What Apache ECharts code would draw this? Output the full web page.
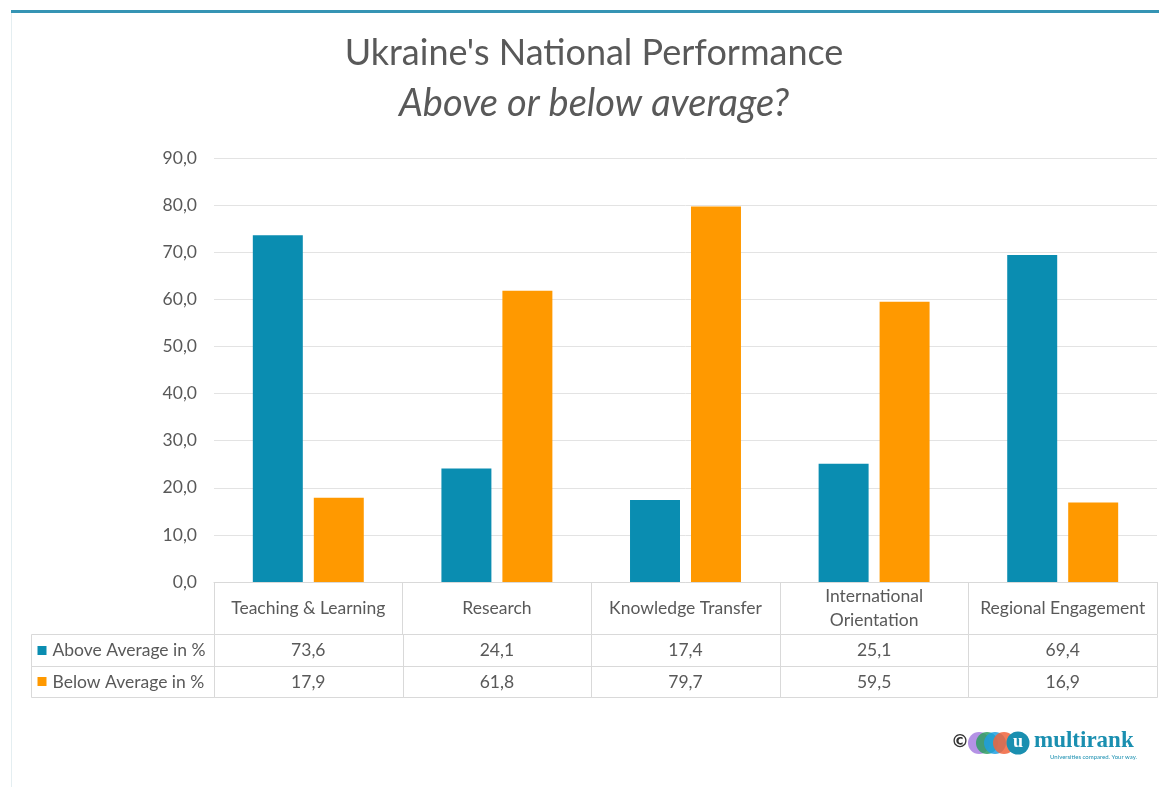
<!DOCTYPE html>
<html><head><meta charset="utf-8">
<script src="https://cdn.jsdelivr.net/npm/echarts@6/dist/echarts.min.js"></script>
<style>html,body{margin:0;padding:0;background:#fff}#c{width:1159px;height:787px}</style>
</head><body><div id="c"></div>
<script>
// ---- data ----
const categories = ['Teaching & Learning', 'Research', 'Knowledge Transfer', 'International\nOrientation', 'Regional Engagement'];
const seriesNames = ['Above Average in %', 'Below Average in %'];
const aboveValues = [73.6, 24.1, 17.4, 25.1, 69.4];
const belowValues = [17.9, 61.8, 79.7, 59.5, 16.9];
const yMin = 0, yMax = 90, yInterval = 10;
const titleText = "Ukraine's National Performance";
const subtitleText = 'Above or below average?';

// ---- style ----
const FONT = 'Lato';
const GREY = '#595959';
const BORDER = '#d9d9d9';
const colors = ['#0a8db1', '#ff9900'];
const fmt = v => v.toFixed(1).replace('.', ',');

const valueRows = [aboveValues, belowValues];
const tableData = [];
valueRows.forEach((arr, r) => arr.forEach((v, c) => tableData.push([c, r])));
const legendData = seriesNames.map((n, r) => [0, r]);

function cellRect(api) {
  const c = api.coord([api.value(0), api.value(1)]);
  const s = api.size([1, 1]);
  const l = Math.round(c[0] - s[0] / 2), rr = Math.round(c[0] + s[0] / 2);
  const t = Math.round(c[1] - s[1] / 2), b = Math.round(c[1] + s[1] / 2);
  return { c, x: l + 0.5, y: t + 0.5, w: rr - l, h: b - t };
}

function renderValueCell(params, api) {
  const r = cellRect(api);
  const col = api.value(0), row = api.value(1);
  return {
    type: 'group',
    children: [
      { type: 'rect', shape: { x: r.x, y: r.y, width: r.w, height: r.h }, style: { fill: 'none', stroke: BORDER, lineWidth: 1 } },
      { type: 'text', x: r.c[0], y: r.c[1] + 1, style: { text: fmt(valueRows[row][col]), fill: GREY, font: '17.5px ' + FONT, align: 'center', verticalAlign: 'middle' } }
    ]
  };
}

function renderLegendCell(params, api) {
  const r = cellRect(api);
  const row = api.value(1);
  return {
    type: 'group',
    children: [
      { type: 'rect', shape: { x: r.x, y: r.y, width: r.w, height: r.h }, style: { fill: 'none', stroke: BORDER, lineWidth: 1 } },
      { type: 'rect', shape: { x: r.x + 6, y: Math.round(r.c[1]) - 4, width: 9, height: 9 }, style: { fill: colors[row] } },
      { type: 'text', x: r.x + 21, y: r.c[1] + 1, style: { text: seriesNames[row], fill: GREY, font: '17.5px ' + FONT, align: 'left', verticalAlign: 'middle' } }
    ]
  };
}

const chart = echarts.init(document.getElementById('c'), null, { renderer: 'canvas' });
chart.setOption({
  backgroundColor: '#ffffff',
  animation: false,
  textStyle: { fontFamily: FONT },
  title: [
    { text: titleText, left: 589, top: 30, textAlign: 'center', textStyle: { fontFamily: FONT, fontSize: 36, fontWeight: 'normal', color: GREY } },
    { text: subtitleText, left: 589, top: 80, textAlign: 'center', textStyle: { fontFamily: FONT, fontSize: 38, fontWeight: 'normal', fontStyle: 'italic', color: GREY } }
  ],
  grid: [
    { left: 214, right: 2, top: 158, bottom: 205 },
    { left: 214, right: 2, top: 634, height: 63 },
    { left: 31, width: 183, top: 634, height: 63 }
  ],
  xAxis: [
    {
      type: 'category', gridIndex: 0, data: categories,
      axisLine: { lineStyle: { color: BORDER, width: 1 } },
      axisTick: { show: true, length: 52, interval: 0, lineStyle: { color: BORDER } },
      axisLabel: { interval: 0, margin: 26, verticalAlign: 'middle', color: GREY, fontSize: 17.5, fontFamily: FONT, lineHeight: 24 }
    },
    { type: 'category', gridIndex: 1, data: categories, show: false },
    { type: 'category', gridIndex: 2, data: ['legend'], show: false }
  ],
  yAxis: [
    {
      type: 'value', gridIndex: 0, min: yMin, max: yMax, interval: yInterval,
      axisLine: { show: false }, axisTick: { show: false },
      splitLine: { lineStyle: { color: '#e3e3e3', width: 1 } },
      axisLabel: { formatter: v => fmt(v), color: GREY, fontSize: 17.5, fontFamily: FONT, margin: 17 }
    },
    { type: 'category', gridIndex: 1, data: [0, 1], inverse: true, show: false },
    { type: 'category', gridIndex: 2, data: [0, 1], inverse: true, show: false }
  ],
  series: [
    { name: seriesNames[0], type: 'bar', data: aboveValues, barWidth: '26.5%', barGap: '22%', itemStyle: { color: colors[0] } },
    { name: seriesNames[1], type: 'bar', data: belowValues, barWidth: '26.5%', barGap: '22%', itemStyle: { color: colors[1] } },
    { type: 'custom', xAxisIndex: 1, yAxisIndex: 1, data: tableData, renderItem: renderValueCell, silent: true },
    { type: 'custom', xAxisIndex: 2, yAxisIndex: 2, data: legendData, renderItem: renderLegendCell, silent: true }
  ],
  graphic: [
    { type: 'rect', shape: { x: 11, y: 10, width: 1148, height: 3 }, style: { fill: '#3594b4' } },
    { type: 'rect', shape: { x: 11, y: 13, width: 1, height: 774 }, style: { fill: '#e4eef1' } },
    // logo
    { type: 'text', x: 951, y: 733, style: { text: '©', font: 'bold 18px DejaVu Sans', fill: '#333' } },
    { type: 'circle', shape: { cx: 979, cy: 743, r: 11 }, style: { fill: '#a77fe0', opacity: 0.85 } },
    { type: 'circle', shape: { cx: 987, cy: 743, r: 11 }, style: { fill: '#2f9e63', opacity: 0.85 } },
    { type: 'circle', shape: { cx: 995, cy: 743, r: 11 }, style: { fill: '#1e9fe0', opacity: 0.85 } },
    { type: 'circle', shape: { cx: 1004, cy: 743, r: 11 }, style: { fill: '#f0643c', opacity: 0.85 } },
    { type: 'circle', shape: { cx: 1018, cy: 743, r: 11.5 }, style: { fill: '#1a8fb0' } },
    { type: 'text', x: 1018, y: 742, style: { text: 'u', font: 'bold 18px Liberation Serif', fill: '#fff', align: 'center', verticalAlign: 'middle' } },
    { type: 'text', x: 1034, y: 741, style: { text: 'multirank', font: 'bold 23px Liberation Serif', fill: '#1a8fb0', align: 'left', verticalAlign: 'middle' } },
    { type: 'text', x: 1137, y: 757, style: { text: 'Universities compared. Your way.', font: '6px ' + FONT, fill: '#1a8fb0', align: 'right', verticalAlign: 'middle' } }
  ]
});
</script>
</body></html>
